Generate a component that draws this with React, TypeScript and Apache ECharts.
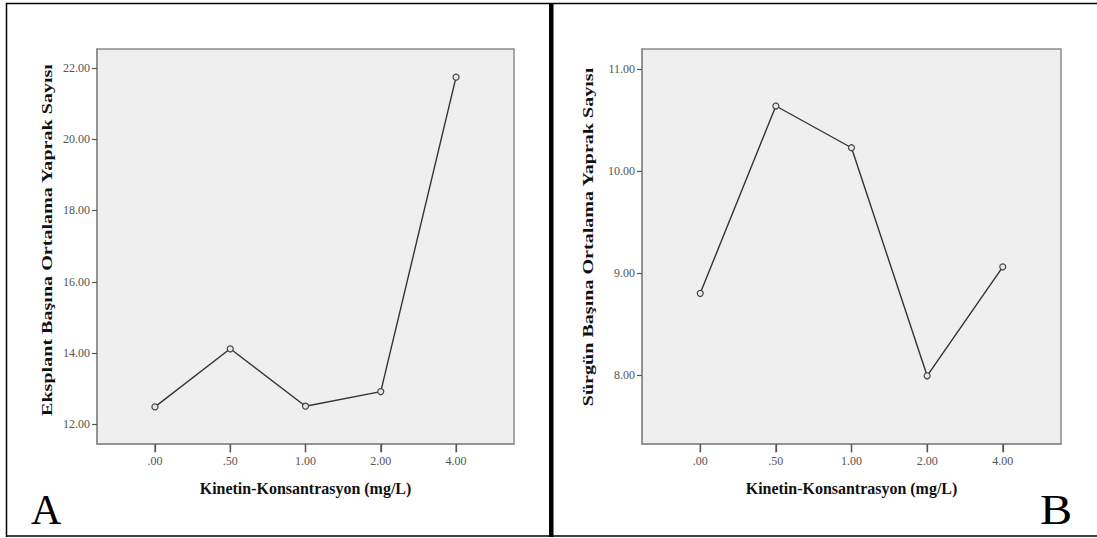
import React, { useEffect, useRef } from "react";
import * as echarts from "echarts";

const concentrations = [".00", ".50", "1.00", "2.00", "4.00"];
const leavesPerExplant = [12.49, 14.12, 12.51, 12.92, 21.74];
const leavesPerShoot = [8.8, 10.64, 10.23, 7.99, 9.06];
const yTicksA = [12, 14, 16, 18, 20, 22];
const yTicksB = [8, 9, 10, 11];
const xTicks = [0, 1, 2, 3, 4];
const yRangeA = [11.45, 22.53];
const yRangeB = [7.32, 11.2];

const xTitle = "Kinetin-Konsantrasyon (mg/L)";
const yTitleA = "Eksplant Başına Ortalama Yaprak Sayısı";
const yTitleB = "Sürgün Başına Ortalama Yaprak Sayısı";

const SERIF = "'Liberation Serif', 'Times New Roman', serif";

export default function App() {
  const ref = useRef<HTMLDivElement>(null);

  useEffect(() => {
    document.body.style.margin = "0";
    const chart = echarts.init(ref.current!, undefined, { renderer: "svg" });

    const gridCommon = {
      show: true,
      backgroundColor: "#efefef",
      borderColor: "#8c8c8c",
      borderWidth: 1.5,
    };

    const makeX = (gridIndex: number) => ({
      type: "value" as const,
      gridIndex,
      min: -0.77,
      max: 4.77,
      splitLine: { show: false },
      axisLine: { show: true, onZero: false, lineStyle: { color: "#8c8c8c", width: 1.5 } },
      axisTick: {
        show: true,
        customValues: xTicks,
        length: 8,
        lineStyle: { color: "#555", width: 1.3 },
      },
      axisLabel: {
        customValues: xTicks,
        margin: 11,
        formatter: (v: number) => concentrations[Math.round(v)],
        fontFamily: SERIF,
        fontSize: 12,
        color: "#555",
      },
    });

    const makeY = (gridIndex: number, range: number[], ticks: number[]) => ({
      type: "value" as const,
      gridIndex,
      min: range[0],
      max: range[1],
      splitLine: { show: false },
      axisLine: { show: true, onZero: false, lineStyle: { color: "#8c8c8c", width: 1.5 } },
      axisTick: {
        show: true,
        customValues: ticks,
        length: 5,
        lineStyle: { color: "#555", width: 1.2 },
      },
      axisLabel: {
        customValues: ticks,
        margin: 7,
        formatter: (v: number) => v.toFixed(2),
        fontFamily: SERIF,
        fontSize: 12,
        color: "#555",
      },
    });

    const seriesStyle = {
      type: "line" as const,
      symbol: "circle",
      symbolSize: 6,
      lineStyle: { color: "#333", width: 1.4 },
      itemStyle: { color: "#e8e8e8", borderColor: "#444", borderWidth: 1.2 },
    };

    const tickSeries = (idx: number, yMin: number) => ({
      type: "scatter" as const,
      xAxisIndex: idx,
      yAxisIndex: idx,
      silent: true,
      clip: false,
      symbol: "rect",
      symbolSize: [1.3, 8],
      symbolOffset: [0, 4.5],
      itemStyle: { color: "#555" },
      data: xTicks.map((v) => [v, yMin]),
    });

    const titleText = (text: string, x: number, y: number, extra: object = {}) => ({
      type: "text",
      x,
      y,
      ...extra,
      style: {
        text,
        font: `bold 17px ${SERIF}`,
        fill: "#111",
        textAlign: "center",
        textVerticalAlign: "middle",
      },
    });

    chart.setOption({
      animation: false,
      backgroundColor: "#ffffff",
      grid: [
        { ...gridCommon, left: 97, top: 49, width: 417, height: 395 },
        { ...gridCommon, left: 642, top: 49, width: 419, height: 395 },
      ],
      xAxis: [makeX(0), makeX(1)],
      yAxis: [makeY(0, yRangeA, yTicksA), makeY(1, yRangeB, yTicksB)],
      series: [
        {
          ...seriesStyle,
          xAxisIndex: 0,
          yAxisIndex: 0,
          data: leavesPerExplant.map((v, i) => [i, v]),
        },
        {
          ...seriesStyle,
          xAxisIndex: 1,
          yAxisIndex: 1,
          data: leavesPerShoot.map((v, i) => [i, v]),
        },
        tickSeries(0, yRangeA[0]),
        tickSeries(1, yRangeB[0]),
      ],
      graphic: [
        // outer frame
        { type: "line", shape: { x1: 6, y1: 3.5, x2: 1097, y2: 3.5 }, style: { stroke: "#000", lineWidth: 1.5 } },
        { type: "line", shape: { x1: 6.5, y1: 3, x2: 6.5, y2: 537 }, style: { stroke: "#000", lineWidth: 1.5 } },
        { type: "line", shape: { x1: 6, y1: 536, x2: 1097, y2: 536 }, style: { stroke: "#000", lineWidth: 1.5 } },
        { type: "rect", shape: { x: 549, y: 3, width: 4.5, height: 534 }, style: { fill: "#000" } },
        // x titles
        titleText(xTitle, 305.5, 488, { scaleX: 0.94 }),
        titleText(xTitle, 851.5, 488, { scaleX: 0.94 }),
        // y titles
        {
          type: "text",
          x: 47,
          y: 240,
          rotation: Math.PI / 2,
          scaleX: 1.34,
          style: {
            text: yTitleA,
            font: `bold 15px ${SERIF}`,
            fill: "#111",
            textAlign: "center",
            textVerticalAlign: "middle",
          },
        },
        {
          type: "text",
          x: 588,
          y: 237,
          rotation: Math.PI / 2,
          scaleX: 1.34,
          style: {
            text: yTitleB,
            font: `bold 15px ${SERIF}`,
            fill: "#111",
            textAlign: "center",
            textVerticalAlign: "middle",
          },
        },
        // panel letters
        {
          type: "text",
          x: 31,
          y: 510,
          style: {
            text: "A",
            font: `42px ${SERIF}`,
            fill: "#000",
            textAlign: "left",
            textVerticalAlign: "middle",
          },
        },
        {
          type: "text",
          x: 1040,
          y: 510,
          scaleX: 1.15,
          style: {
            text: "B",
            font: `42px ${SERIF}`,
            fill: "#000",
            textAlign: "left",
            textVerticalAlign: "middle",
          },
        },
      ],
    });

    return () => chart.dispose();
  }, []);

  return <div ref={ref} style={{ width: 1097, height: 538 }} />;
}
